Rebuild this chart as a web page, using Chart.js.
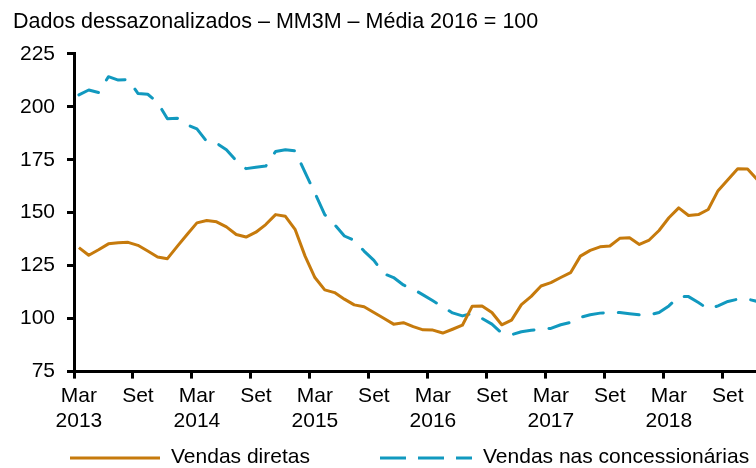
<!DOCTYPE html>
<html>
<head>
<meta charset="utf-8">
<script src="https://cdn.jsdelivr.net/npm/chart.js@4/dist/chart.umd.min.js"></script>
<style>
  html, body { margin: 0; padding: 0; background: #fff; overflow: hidden; }
  #wrap { width: 756px; height: 468px; position: relative; }
</style>
</head>
<body>
<div id="wrap"><canvas id="vendasChart"></canvas></div>
<script>
const titleText = 'Dados dessazonalizados – MM3M – Média 2016 = 100';
const seriesNames = ['Vendas diretas', 'Vendas nas concessionárias'];
const tickLabels = [['Mar', '2013'], 'Set', ['Mar', '2014'], 'Set', ['Mar', '2015'], 'Set',
  ['Mar', '2016'], 'Set', ['Mar', '2017'], 'Set', ['Mar', '2018'], 'Set'];
const yTicks = [75, 100, 125, 150, 175, 200, 225];

// monthly, Mar 2013 .. Dec 2018
const vendasDiretas = [
  133.5, 129.9, 132.5, 135.3, 135.8, 136.0, 134.6, 131.9, 129.1, 128.3, 134.1, 139.7,
  145.2, 146.3, 145.7, 143.3, 139.7, 138.5, 140.8, 144.4, 149.1, 148.3, 142.0, 129.5,
  119.4, 113.6, 112.3, 109.2, 106.5, 105.6, 102.9, 100.2, 97.4, 98.1, 96.2, 94.7,
  94.6, 93.2, 95.0, 96.9, 105.9, 106.0, 102.9, 97.1, 99.3, 106.6, 110.5, 115.4,
  117.0, 119.4, 121.7, 129.5, 132.2, 133.9, 134.3, 137.9, 138.2, 135.0, 137.1, 141.6,
  147.6, 152.3, 148.7, 149.1, 151.5, 160.4, 165.6, 170.8, 170.6, 165.5
];
const vendasConcessionarias = [
  205.6, 207.9, 206.7, 214.2, 212.6, 212.9, 206.3, 205.9, 202.1, 194.3, 194.6, 191.5,
  189.6, 183.6, 182.8, 179.7, 174.5, 170.8, 171.4, 172.0, 178.9, 179.7, 179.2, 169.0,
  159.3, 149.1, 144.4, 139.0, 136.9, 131.9, 127.5, 121.2, 119.4, 115.9, 113.9, 111.2,
  108.4, 105.6, 102.7, 101.3, 102.4, 100.1, 97.4, 93.2, 92.4, 93.8, 94.5, 95.1,
  95.4, 97.1, 98.2, 100.6, 101.8, 102.6, 102.9, 102.9, 102.3, 101.8, 101.8, 102.9,
  106.0, 110.4, 110.4, 107.6, 104.5, 106.0, 108.1, 109.2, 109.2, 108.1
];

const ORANGE = '#c67a0c';
const BLUE = '#1199bf';
const FONT = "'Liberation Sans', Arial, sans-serif";

Chart.defaults.font.family = FONT;
Chart.defaults.color = '#000';

// points sit in the middle of each month slot
const toPoints = arr => arr.map((v, i) => ({ x: i + 0.5, y: v }));

const bottomLegend = {
  id: 'bottomLegend',
  afterDraw(chart) {
    const c = chart.ctx;
    const y = chart.height - 10;
    const slots = [{ x: 70, w: 90 }, { x: 380, w: 92 }];
    c.save();
    chart.data.datasets.forEach((ds, k) => {
      const s = slots[k];
      c.strokeStyle = ds.borderColor;
      c.lineWidth = 3;
      c.lineCap = 'butt';
      c.setLineDash(ds.borderDash && ds.borderDash.length ? [26, 12] : []);
      c.beginPath();
      c.moveTo(s.x, y);
      c.lineTo(s.x + s.w, y);
      c.stroke();
      c.setLineDash([]);
      c.fillStyle = '#000';
      c.font = '21px ' + FONT;
      c.textBaseline = 'middle';
      c.fillText(ds.label, s.x + s.w + 11, y - 1);
    });
    c.restore();
  }
};

new Chart(document.getElementById('vendasChart'), {
  type: 'line',
  data: {
    datasets: [{
      label: seriesNames[0],
      data: toPoints(vendasDiretas),
      borderColor: ORANGE,
      borderWidth: 3,
      pointRadius: 0,
      tension: 0,
      borderJoinStyle: 'round'
    }, {
      label: seriesNames[1],
      data: toPoints(vendasConcessionarias),
      borderColor: BLUE,
      borderWidth: 3,
      borderDash: [21, 15],
      borderCapStyle: 'round',
      borderJoinStyle: 'round',
      pointRadius: 0,
      tension: 0
    }]
  },
  options: {
    responsive: true,
    maintainAspectRatio: false,
    animation: false,
    layout: { padding: { left: 13, right: 0, top: 0, bottom: 29 } },
    plugins: {
      legend: { display: false },
      tooltip: { enabled: false },
      title: {
        display: true,
        text: titleText,
        align: 'start',
        color: '#000',
        font: { size: 21.5, weight: 'normal', family: FONT },
        padding: { top: 9, bottom: 19 }
      }
    },
    scales: {
      x: {
        type: 'linear',
        min: 0,
        max: 69.36,
        afterBuildTicks: s => { s.ticks = tickLabels.map((_, k) => ({ value: k * 6 })); },
        ticks: {
          autoSkip: false,
          maxRotation: 0,
          labelOffset: 4.9,
          padding: 5,
          font: { size: 21 },
          callback: v => tickLabels[Math.round(v / 6)]
        },
        grid: { drawOnChartArea: false, color: '#000', lineWidth: 3, tickLength: 7 },
        border: { color: '#000', width: 3 }
      },
      y: {
        min: 75,
        max: 225,
        afterBuildTicks: s => { s.ticks = yTicks.map(v => ({ value: v })); },
        afterFit: s => { s.width = 61; },
        ticks: { padding: 12, font: { size: 21 } },
        grid: { drawOnChartArea: false, color: '#000', lineWidth: 3, tickLength: 7 },
        border: { color: '#000', width: 3 }
      }
    }
  },
  plugins: [bottomLegend]
});
</script>
</body>
</html>
